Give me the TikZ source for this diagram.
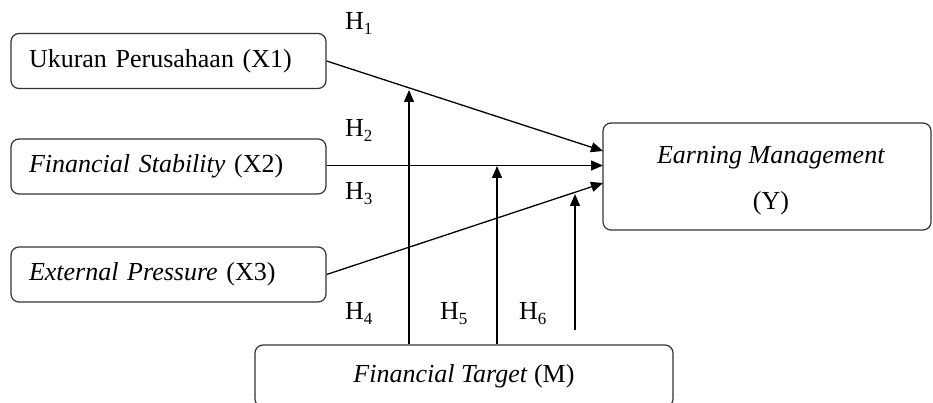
\documentclass[tikz,border=0pt]{standalone}
\usepackage{fontspec}
\setmainfont{Liberation Serif}
\usetikzlibrary{arrows.meta,calc}
\begin{document}
\begin{tikzpicture}[x=1pt,y=-1pt,
  box/.style={draw=black!80, line width=1.2pt, rounded corners=8pt, inner sep=0pt},
  leftbox/.style={box, minimum width=315pt, minimum height=55pt, text width=279pt, align=left, inner xsep=18pt},
  conn/.style={line width=1.3pt, -{Triangle[length=12pt,width=10pt]}},
  hlab/.style={anchor=base west, inner sep=0pt},
  txt/.style={anchor=base, inner sep=0pt},
  every node/.style={font=\fontsize{26}{30}\selectfont}]
\clip (0,0) rectangle (933,403);
\node[leftbox] (X1) at (168.5,61) {Ukuran Perusahaan (X1)};
\node[leftbox] (X2) at (168.5,166.5) {\textit{Financial Stability} (X2)};
\node[leftbox] (X3) at (168.5,274.5) {\textit{External Pressure} (X3)};
\node[box, minimum width=328pt, minimum height=107pt] (Y) at (767,176.5) {};
\node[txt] (Yt1) at (771,164) {\textit{Earning Management}};
\node[txt] (Yt2) at (771,210) {(Y)};
\node[box, minimum width=418pt, minimum height=62pt] (M) at (464,376) {\textit{Financial Target} (M)};
\coordinate (y1) at (603,151);
\coordinate (y2) at (603,165.5);
\coordinate (y3) at (603,183);
\coordinate (h4) at (409,90);
\coordinate (h5) at (497,166);
\coordinate (h6) at (575,194);
\coordinate (h6s) at (575,330);
\draw[conn] (X1.east) -- (y1);
\draw[conn] (X2.east |- y2) -- (y2);
\draw[conn] (X3.east) -- (y3);
\draw[conn] (M.north -| h4) -- (h4);
\draw[conn] (M.north -| h5) -- (h5);
\draw[conn] (h6s) -- (h6);
\newcommand{\hsub}[1]{H{\fontsize{17}{17}\selectfont\raisebox{-5pt}{#1}}}
\node[hlab] (H1) at (345,30) {\hsub{1}};
\node[hlab] (H2) at (345,137) {\hsub{2}};
\node[hlab] (H3) at (345,200) {\hsub{3}};
\node[hlab] (H4) at (345,319) {\hsub{4}};
\node[hlab] (H5) at (440,319) {\hsub{5}};
\node[hlab] (H6) at (519,319) {\hsub{6}};
\end{tikzpicture}
\end{document}
